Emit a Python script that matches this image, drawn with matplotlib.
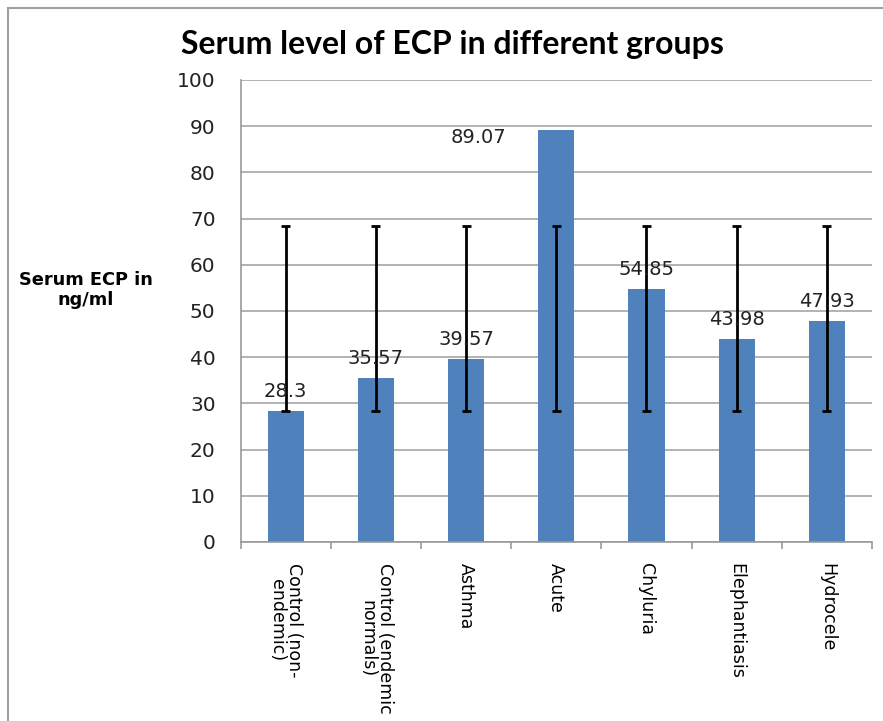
import matplotlib.pyplot as plt
from matplotlib.patches import Rectangle

groups = ["Control (non-\nendemic)", "Control (endemic\nnormals)", "Asthma", "Acute",
          "Chyluria", "Elephantiasis", "Hydrocele"]
ecp = [28.3, 35.57, 39.57, 89.07, 54.85, 43.98, 47.93]
labels = ["28.3", "35.57", "39.57", "89.07", "54.85", "43.98", "47.93"]
err_low = [28.3] * 7
err_high = [68.3] * 7

fig = plt.figure(figsize=(8.83, 7.21), dpi=100)
ax = fig.add_axes([0.2725, 0.2483, 0.715, 0.6408])

bar_col = "#4F81BD"
x = list(range(len(groups)))
ax.bar(x, ecp, width=0.4, color=bar_col, zorder=2)
ax.vlines(x, err_low, err_high, color="black", lw=2, zorder=3)
ax.hlines(err_low, [i - 0.05 for i in x], [i + 0.05 for i in x], color="black", lw=2, zorder=3)
ax.hlines(err_high, [i - 0.05 for i in x], [i + 0.05 for i in x], color="black", lw=2, zorder=3)

for i, (v, t) in enumerate(zip(ecp, labels)):
    if i == 3:
        # this one sits to the left of the Acute bar
        ax.annotate(t, (i, v), xytext=(-56, -5), textcoords="offset points",
                    ha="center", va="center", fontsize=14, color="#222222", zorder=4)
    else:
        ax.annotate(t, (i, v), xytext=(0, 14), textcoords="offset points",
                    ha="center", va="center", fontsize=14, color="#222222", zorder=4)

ax.set_xlim(-0.5, 6.5)
ax.set_ylim(0, 100)
ax.set_yticks(range(0, 101, 10))
ax.grid(axis="y", color="#a6a6a6", lw=1.2, zorder=0)
ax.set_axisbelow(True)
for s in ["top", "right"]:
    ax.spines[s].set_visible(False)
for s in ["left", "bottom"]:
    ax.spines[s].set_color("#999999")
    ax.spines[s].set_linewidth(1.2)

ax.set_xticks([i - 0.5 for i in range(8)], minor=False)
ax.set_xticklabels([])
ax.tick_params(axis="x", which="major", length=5, color="#999999", width=1.2)
ax.set_xticks(x, minor=True)
ax.set_xticklabels(groups, minor=True, rotation=270, fontsize=12.5,
                   va="top", ha="center", linespacing=0.95)
ax.tick_params(axis="x", which="minor", length=0, pad=15)
ax.tick_params(axis="y", length=0, labelsize=14.5, pad=18, labelcolor="#222222")

fig.text(0.097, 0.598, "Serum ECP in\nng/ml", ha="center", va="center",
         fontsize=12.8, fontweight="bold", linespacing=1.1)
fig.text(0.512, 0.938, "Serum level of ECP in different groups", ha="center",
         va="center", fontsize=23, fontweight="bold", family="Lato")

fig.patches.append(Rectangle((0.0095, -0.05), 1.2, 1.039, transform=fig.transFigure,
                             fill=False, edgecolor="#a0a0a0", lw=1.5))

fig.savefig("out.png", dpi=100)
